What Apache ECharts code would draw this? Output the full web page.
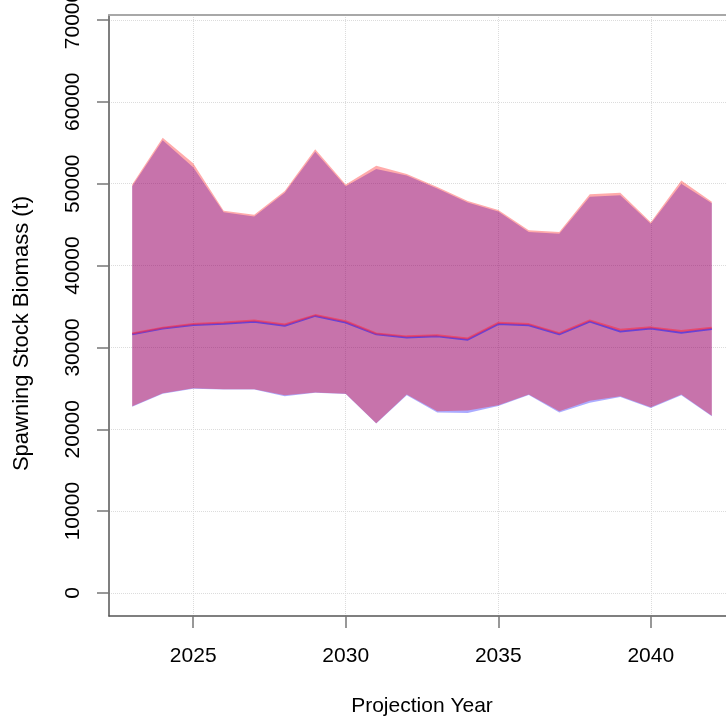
<!DOCTYPE html>
<html>
<head>
<meta charset="utf-8">
<script src="https://cdn.jsdelivr.net/npm/echarts@6/dist/echarts.min.js"></script>
<style>
  html, body { margin: 0; padding: 0; background: #fff; }
  #chart { width: 726px; height: 717px; }
</style>
</head>
<body>
<div id="chart"></div>
<script>
const years = [2023, 2024, 2025, 2026, 2027, 2028, 2029, 2030, 2031, 2032,
  2033, 2034, 2035, 2036, 2037, 2038, 2039, 2040, 2041, 2042]

// red scenario
const redUpper = [49900, 55600, 52500, 46700, 46200, 49100, 54200, 49900, 52200, 51200,
  49600, 47900, 46800, 44300, 44100, 48700, 48900, 45300, 50400, 47800]
const redMedian = [31700, 32400, 32850, 33050, 33300, 32800, 33950, 33200, 31700, 31350,
  31500, 31100, 33000, 32850, 31750, 33300, 32150, 32450, 32000, 32400]
const redLower = [22800, 24400, 25000, 24900, 24900, 24150, 24500, 24350, 20750, 24250,
  22200, 22300, 22950, 24250, 22200, 23500, 24050, 22700, 24250, 21650]

// blue scenario
const blueUpper = [49700, 55300, 52000, 46500, 46000, 48900, 53900, 49700, 51800, 51000,
  49400, 47700, 46600, 44100, 43900, 48400, 48600, 45100, 50000, 47600]
const blueMedian = [31600, 32300, 32750, 32900, 33150, 32650, 33850, 33050, 31600, 31200,
  31350, 30950, 32850, 32700, 31600, 33150, 31950, 32300, 31800, 32250]
const blueLower = [22750, 24350, 24950, 24850, 24850, 24050, 24450, 24300, 20700, 24150,
  22050, 22000, 22850, 24200, 22050, 23250, 23950, 22600, 24150, 21600]

const xTicks = [2025, 2030, 2035, 2040]
const yTicks = [0, 10000, 20000, 30000, 40000, 50000, 60000, 70000]

const font = '"Liberation Sans", Arial, sans-serif'
const pairs = (arr) => years.map((y, i) => [y, arr[i]])

// whole band as one polygon: upper edge forward, lower edge back
const band = (lo, hi, color) => ({
  type: 'custom',
  silent: true,
  data: years.map((y, i) => [y, lo[i], hi[i]]),
  encode: { x: 0, y: [1, 2] },
  renderItem: (params, api) => {
    if (params.dataIndex !== 0) return null
    let pts = []
    years.forEach((y, i) => pts.push(api.coord([y, hi[i]])))
    for (let i = years.length - 1; i >= 0; i--) pts.push(api.coord([years[i], lo[i]]))
    return { type: 'polygon', shape: { points: pts }, style: { fill: color } }
  }
})
const median = (data, color) => ({
  type: 'line', data: data, symbol: 'none', silent: true,
  lineStyle: { width: 2, color: color }
})

let c = echarts.init(document.getElementById('chart'))
c.setOption({
  animation: false,
  grid: { left: 109, right: -9, top: 15, bottom: 101, outerBoundsMode: 'none', containLabel: false },
  xAxis: [
    {
      type: 'value',
      min: 2022.24,
      max: 2042.76,
      name: 'Projection Year',
      nameLocation: 'middle',
      nameGap: 80,
      nameTextStyle: { fontFamily: font, fontSize: 21, color: '#000' },
      axisLine: { show: true, onZero: false, lineStyle: { color: '#555', width: 1.5 } },
      axisTick: { show: true, length: 12, customValues: xTicks, lineStyle: { color: '#777', width: 1.5 } },
      axisLabel: { customValues: xTicks, margin: 30, fontFamily: font, fontSize: 21, color: '#000',
        formatter: (v) => String(v) },
      splitLine: { show: true, lineStyle: { color: '#dcdcdc', type: 'dotted', width: 1 } }
    },
    {
      // top frame line
      type: 'value',
      position: 'top',
      min: 2022.24,
      max: 2042.76,
      axisLine: { show: true, onZero: false, lineStyle: { color: '#a8a8a8', width: 2 } },
      axisTick: { show: false },
      axisLabel: { show: false },
      splitLine: { show: false }
    }
  ],
  yAxis: {
    type: 'value',
    min: -2810,
    max: 70610,
    name: 'Spawning Stock Biomass (t)',
    nameLocation: 'middle',
    nameRotate: 90,
    nameGap: 76,
    nameTextStyle: { fontFamily: font, fontSize: 22, color: '#000', padding: [0, 36, 0, 0] },
    axisLine: { show: true, onZero: false, lineStyle: { color: '#555', width: 1.5 } },
    axisTick: { show: true, length: 12, customValues: yTicks, lineStyle: { color: '#777', width: 1.5 } },
    axisLabel: { customValues: yTicks, rotate: 90, margin: 25, fontFamily: font, fontSize: 21, color: '#000',
      formatter: (v) => String(v) },
    splitLine: { show: true, lineStyle: { color: '#dcdcdc', type: 'dotted', width: 1 } }
  },
  series: [
    band(blueLower, blueUpper, 'rgba(0, 0, 255, 0.33)'),
    band(redLower, redUpper, 'rgba(255, 0, 0, 0.33)'),
    median(pairs(blueMedian), 'rgba(70, 50, 230, 0.75)'),
    median(pairs(redMedian), 'rgba(255, 40, 60, 0.55)')
  ]
})
</script>
</body>
</html>
